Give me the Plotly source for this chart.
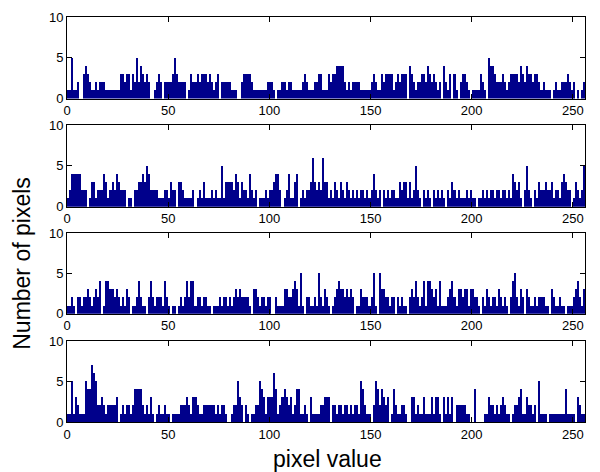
import plotly.graph_objects as go

pixel_values = list(range(256))

h1 = [1,1,5,1,1,2,0,0,3,4, 3,2,1,1,2,1,2,2,2,1, 1,1,1,1,1,1,3,3,2,3, 3,1,3,2,5,2,4,3,2,3,
      2,0,0,1,2,3,2,0,2,2, 2,2,3,5,3,2,2,2,2,0, 1,3,2,2,3,2,3,3,3,2, 3,2,1,2,3,0,2,2,2,2,
      2,1,1,1,0,0,2,3,3,3, 3,2,1,1,1,1,1,1,1,2, 2,2,1,0,1,1,2,2,1,2, 2,1,1,1,1,1,2,3,2,1,
      1,1,2,2,3,3,1,1,1,3, 2,3,3,4,4,4,4,2,1,2, 1,2,2,2,2,1,1,1,1,1, 2,3,2,1,1,3,2,3,3,3,
      3,1,2,3,2,3,3,3,0,4, 3,2,1,2,2,3,3,2,4,3, 2,3,2,1,2,0,4,2,1,3, 0,3,1,0,2,3,3,2,1,0,
      1,1,1,1,3,2,1,0,5,4, 4,3,2,2,2,3,2,1,2,3, 3,3,3,2,4,3,2,4,3,3, 2,3,3,2,1,2,1,1,1,0,
      1,2,1,1,2,2,2,3,2,1, 2,0,1,0,1,2]

h2 = [1,2,4,4,4,4,4,2,2,2, 0,1,3,3,1,2,2,2,4,3, 1,2,3,2,4,3,2,2,2,0, 1,1,0,2,2,3,3,4,3,5,
      4,2,2,2,2,1,1,1,2,2, 1,3,2,2,0,3,3,2,1,1, 1,1,2,0,1,2,1,3,1,1, 1,2,1,2,1,1,5,1,3,3,
      3,3,2,4,3,1,3,2,2,1, 4,2,1,2,0,1,1,1,2,1, 2,2,3,4,4,2,0,1,2,4, 1,1,3,4,0,1,2,1,2,2,
      3,6,3,2,3,2,6,3,3,1, 2,1,3,2,1,3,2,1,3,2, 1,2,1,2,1,2,2,1,2,1, 2,4,2,1,2,0,2,1,2,1,
      2,2,1,1,3,2,3,3,1,3, 1,2,5,2,1,0,2,1,2,1, 0,2,1,2,1,2,1,0,2,1, 3,2,1,2,1,1,1,2,1,2,
      1,1,0,1,1,2,1,2,1,2, 2,1,2,2,1,2,2,1,2,1, 4,3,2,3,1,0,2,5,2,1, 0,2,1,3,2,2,3,2,2,3,
      1,2,2,1,3,4,3,2,2,0, 1,3,2,1,2,5]

h3 = [1,1,2,1,0,2,2,1,2,2, 3,2,1,2,3,2,4,0,1,4, 4,3,3,2,3,2,1,2,1,3, 2,0,1,1,2,4,2,1,1,0,
      2,4,2,1,2,2,2,1,4,2, 1,0,1,1,0,1,2,1,2,4, 2,4,4,1,2,2,1,2,2,1, 1,0,1,1,1,2,1,2,2,1,
      2,1,2,3,2,3,2,2,2,2, 1,0,3,3,2,1,2,2,1,2, 2,0,0,2,1,1,1,3,3,2, 2,3,4,3,1,5,1,0,2,2,
      1,1,2,1,5,2,1,3,2,1, 0,1,2,3,4,3,3,2,3,2, 3,2,0,1,1,3,2,2,2,1, 2,5,1,0,5,3,3,2,2,1,
      2,2,0,2,1,2,1,1,0,2, 3,2,4,2,1,2,4,1,4,4, 3,2,3,1,4,1,1,1,2,3, 4,2,1,3,3,2,3,3,1,3,
      3,2,2,1,0,2,1,3,2,1, 2,2,1,3,2,1,2,1,0,2, 4,5,2,1,3,2,0,3,2,1, 1,2,1,2,2,2,1,1,0,3,
      2,1,1,2,1,1,0,1,1,1, 2,3,4,2,1,3]

h4 = [1,1,5,1,3,2,1,1,1,5, 4,4,7,6,5,2,2,3,2,1, 2,2,2,2,3,0,1,2,1,2, 2,1,2,4,4,4,4,2,1,2,
      1,3,1,0,1,2,1,1,2,1, 1,0,1,1,1,1,2,2,2,3, 2,1,3,3,2,1,1,2,2,2, 2,2,2,1,2,1,2,2,1,0,
      0,1,2,2,5,3,2,0,2,1, 0,1,1,2,2,5,4,3,1,3, 3,3,6,4,1,2,3,4,3,2, 3,1,2,4,4,1,1,2,1,0,
      3,1,1,1,1,2,2,3,3,3, 0,2,2,1,2,2,1,2,2,1, 2,1,2,2,1,5,4,2,1,1, 0,2,5,4,2,4,3,2,3,0,
      1,4,2,1,1,2,2,1,0,0, 3,3,1,2,1,1,3,1,1,1, 3,1,3,3,1,0,3,1,3,1, 3,0,2,2,2,2,2,1,1,0,
      0,4,0,0,0,0,1,1,3,2, 2,1,2,1,2,3,2,1,1,0, 1,2,2,3,4,1,1,3,2,2, 1,2,0,5,1,1,1,0,1,1,
      1,1,1,1,1,1,4,1,1,1, 1,0,3,2,1,1]

series = [h1, h2, h3, h4]
x_ticks = [0, 50, 100, 150, 200, 250]
y_ticks = [0, 5, 10]
x_title = "pixel value"
y_title = "Number of pixels"

bar_color = "#00008B"
font_family = "Arial, Liberation Sans, sans-serif"

# domains (paper coords, top subplot first)
domains = [(0.7985, 1.0), (0.5316, 0.733), (0.267, 0.466), (0.0, 0.199)]

fig = go.Figure()
layout = dict(
    width=592, height=464,
    margin=dict(l=59, r=15, t=2, b=50),
    paper_bgcolor="white", plot_bgcolor="white",
    showlegend=False, bargap=0,
    font=dict(family=font_family, size=13, color="black"),
)

for i, h in enumerate(series):
    n = "" if i == 0 else str(i + 1)
    fig.add_trace(go.Bar(
        x=pixel_values, y=h, width=1, offset=0,
        marker=dict(color=bar_color, line=dict(width=0)),
        xaxis="x" + n, yaxis="y" + n,
    ))
    layout["xaxis" + n] = dict(
        domain=[0, 1], anchor="y" + n, range=[0, 256],
        tickvals=x_ticks, ticks="inside", ticklen=5, tickcolor="black",
        showline=True, linecolor="black", linewidth=1, mirror="ticks",
        showgrid=False, zeroline=False,
        tickfont=dict(size=13, family=font_family, color="black"),
    )
    layout["yaxis" + n] = dict(
        domain=list(domains[i]), anchor="x" + n, range=[0, 10],
        tickvals=y_ticks, ticks="inside", ticklen=5, tickcolor="black",
        showline=True, linecolor="black", linewidth=1, mirror="ticks",
        showgrid=False, zeroline=False,
        tickfont=dict(size=13, family=font_family, color="black"),
    )

layout["annotations"] = [
    dict(text=x_title, xref="paper", yref="paper", x=0.502, y=-0.092,
         showarrow=False, font=dict(size=23, family=font_family, color="black"),
         xanchor="center", yanchor="middle"),
    dict(text=y_title, xref="paper", yref="paper", x=-0.087, y=0.393,
         showarrow=False, textangle=-90,
         font=dict(size=23, family=font_family, color="black"),
         xanchor="center", yanchor="middle"),
]

fig.update_layout(**layout)
fig.write_html("out.html")
